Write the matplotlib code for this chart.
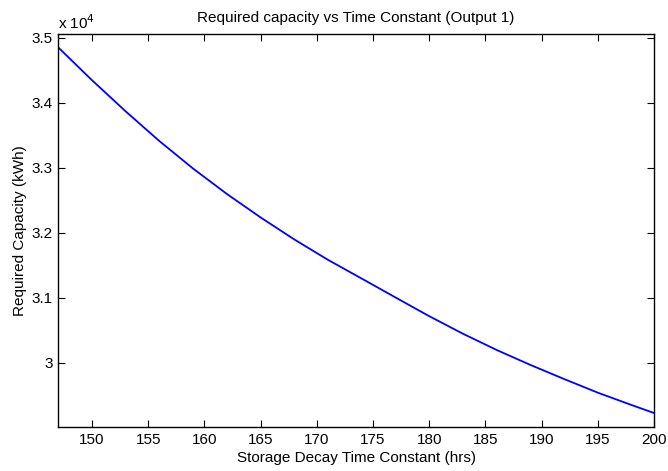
import matplotlib
matplotlib.use('Agg')
import matplotlib.pyplot as plt
from matplotlib.ticker import FuncFormatter

plt.rcParams['font.family'] = ['Liberation Sans', 'DejaVu Sans']

# storage decay time constant (hrs) vs required capacity (kWh)
tau = [147, 150, 153, 156, 159, 162, 165, 168, 171, 174, 177, 180,
       183, 186, 189, 192, 195, 198, 200]
capacity = [34854, 34350, 33870, 33413, 32990, 32600, 32239, 31900,
            31586, 31298, 31008, 30720, 30450, 30200, 29970, 29753,
            29543, 29353, 29230]

xticks = [150, 155, 160, 165, 170, 175, 180, 185, 190, 195, 200]
yticks = [30000, 31000, 32000, 33000, 34000, 35000]

fig = plt.figure(figsize=(6.68, 4.71), dpi=100)
ax = fig.add_axes([0.0873, 0.0928, 0.8917, 0.8344])

ax.plot(tau, capacity, color='#0000ff', linewidth=1.3)

ax.set_xlim(147, 200)
ax.set_ylim(29010, 35057)
ax.set_xticks(xticks)
ax.set_yticks(yticks)
ax.yaxis.set_major_formatter(FuncFormatter(lambda v, p: '%g' % (v / 1e4)))
ax.tick_params(direction='in', top=True, right=True, length=5, width=0.8,
               labelsize=11, pad=4)
for s in ax.spines.values():
    s.set_linewidth(1.0)

ax.text(0.0, 1.006, r'x 10$^{4}$', transform=ax.transAxes, fontsize=11,
        ha='left', va='bottom')

ax.set_title('Required capacity vs Time Constant (Output 1)', fontsize=11, pad=8.5)
ax.set_xlabel('Storage Decay Time Constant (hrs)', fontsize=11, labelpad=3)
ax.set_ylabel('Required Capacity (kWh)', fontsize=11, labelpad=3)

fig.savefig('out.png', dpi=100)
